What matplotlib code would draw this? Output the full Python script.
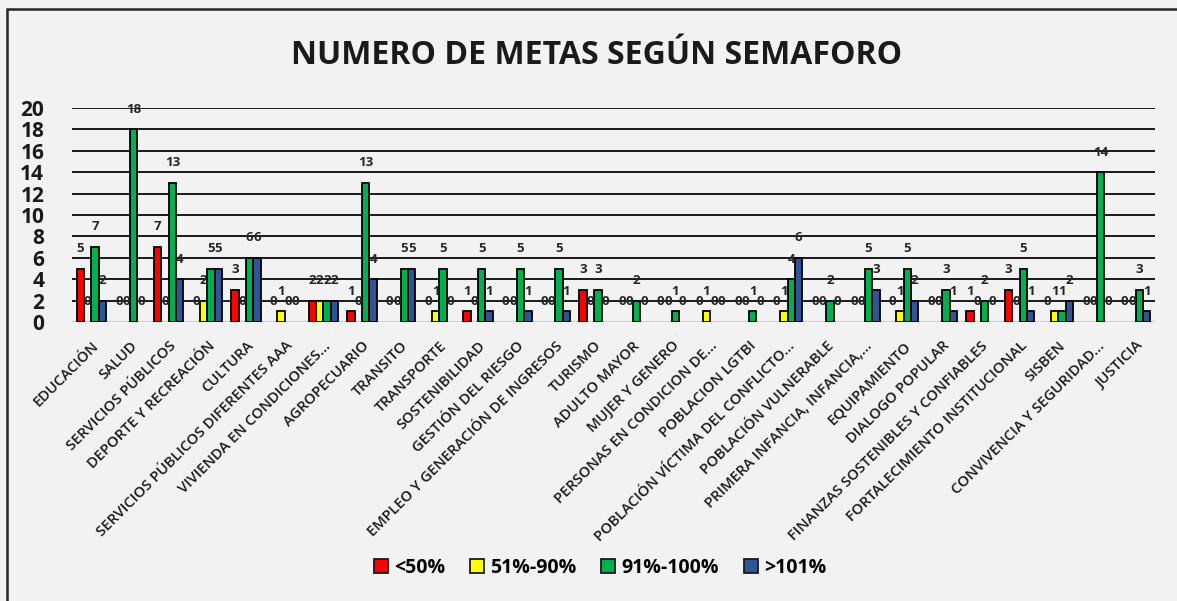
import numpy as np
import matplotlib
matplotlib.use('Agg')
import matplotlib.pyplot as plt
from matplotlib.patches import Patch, Rectangle

# datos
categorias = [
    'EDUCACIÓN', 'SALUD', 'SERVICIOS PÚBLICOS', 'DEPORTE Y RECREACIÓN', 'CULTURA',
    'SERVICIOS PÚBLICOS DIFERENTES AAA', 'VIVIENDA EN CONDICIONES...', 'AGROPECUARIO',
    'TRANSITO', 'TRANSPORTE', 'SOSTENIBILIDAD', 'GESTIÓN DEL RIESGO',
    'EMPLEO Y GENERACIÓN DE INGRESOS', 'TURISMO', 'ADULTO MAYOR', 'MUJER Y GENERO',
    'PERSONAS EN CONDICION DE...', 'POBLACION LGTBI', 'POBLACIÓN VÍCTIMA DEL CONFLICTO...',
    'POBLACIÓN VULNERABLE', 'PRIMERA INFANCIA, INFANCIA,...', 'EQUIPAMIENTO',
    'DIALOGO POPULAR', 'FINANZAS SOSTENIBLES Y CONFIABLES', 'FORTALECIMIENTO INSTITUCIONAL',
    'SISBEN', 'CONVIVENCIA Y SEGURIDAD...', 'JUSTICIA',
]
menor_50 = [5, 0, 7, 0, 3, 0, 2, 1, 0, 0, 1, 0, 0, 3, 0, 0, 0, 0, 0, 0, 0, 0, 0, 1, 3, 0, 0, 0]
entre_51_90 = [0, 0, 0, 2, 0, 1, 2, 0, 0, 1, 0, 0, 0, 0, 0, 0, 1, 0, 1, 0, 0, 1, 0, 0, 0, 1, 0, 0]
entre_91_100 = [7, 18, 13, 5, 6, 0, 2, 13, 5, 5, 5, 5, 5, 3, 2, 1, 0, 1, 4, 2, 5, 5, 3, 2, 5, 1, 14, 3]
mayor_101 = [2, 0, 4, 5, 6, 0, 2, 4, 5, 0, 1, 1, 1, 0, 0, 0, 0, 0, 6, 0, 3, 2, 1, 0, 1, 2, 0, 1]

series = ['<50%', '51%-90%', '91%-100%', '>101%']
colores = ['#FF0000', '#FFFF00', '#00B050', '#2F5597']
valores = [menor_50, entre_51_90, entre_91_100, mayor_101]

FONDO = '#F2F2F2'
FUENTE = 'Open Sans'

fig = plt.figure(figsize=(11.77, 6.01), dpi=100, facecolor=FONDO)
ax = fig.add_axes([72 / 1177, 1 - 322 / 601, (1155 - 72) / 1177, (322 - 108) / 601])
ax.set_facecolor(FONDO)

x = np.arange(len(categorias))
ancho = 0.19
for i, (nombre, vals, c) in enumerate(zip(series, valores, colores)):
    pos = x + (i - 1.5) * ancho
    bordes = ['black' if v > 0 else 'none' for v in vals]
    ax.bar(pos, vals, ancho, color=c, edgecolor=bordes, linewidth=1.3, zorder=3)
    for xp, v in zip(pos, vals):
        ax.annotate(str(v), (xp, v), xytext=(0, 14.5), textcoords='offset points',
                    ha='center', va='center', fontsize=9.5, fontweight='bold',
                    family=FUENTE, color='#262626', zorder=4)

ax.set_xlim(-0.5, len(categorias) - 0.5)
ax.set_ylim(0, 20)
ax.set_yticks(range(0, 21, 2))
for y in range(2, 21, 2):
    ax.axhline(y, color='#1a1a1a', linewidth=1.4, zorder=1)
ax.axhline(0, color='#D0D0D0', linewidth=1.5, zorder=2)

for s in ax.spines.values():
    s.set_visible(False)
ax.tick_params(axis='both', length=0)
ax.tick_params(axis='y', pad=20)
ax.set_yticklabels([str(v) for v in range(0, 21, 2)], fontsize=15, fontweight='bold',
                   family=FUENTE, color='#1a1a1a')
ax.set_xticks(x)
ax.set_xticklabels(categorias, rotation=45, ha='right', va='top', rotation_mode='anchor',
                   fontsize=10.6, fontweight='semibold', family=FUENTE, color='#1a1a1a')
ax.tick_params(axis='x', pad=12)

fig.text(597 / 1177, 1 - 55 / 601, 'NUMERO DE METAS SEGÚN SEMAFORO', ha='center', va='center',
         fontsize=23, fontweight='bold', family=FUENTE, color='#1a1a1a')

handles = [Patch(facecolor=c, edgecolor='#1a1a1a', linewidth=1.3) for c in colores]
fig.legend(handles, series, loc='center', bbox_to_anchor=(600 / 1177, 1 - 568 / 601),
           ncol=4, frameon=False, handlelength=0.72, handleheight=0.72,
           handletextpad=0.3, columnspacing=1.3,
           prop={'family': FUENTE, 'weight': 'bold', 'size': 14})

fig.patches.append(Rectangle((7 / 1177, -0.1), 1.2, 1 - 9 / 601 + 0.1, transform=fig.transFigure,
                             fill=False, edgecolor='#262626', linewidth=1.8))

fig.savefig('out.png', dpi=100, facecolor=FONDO)
